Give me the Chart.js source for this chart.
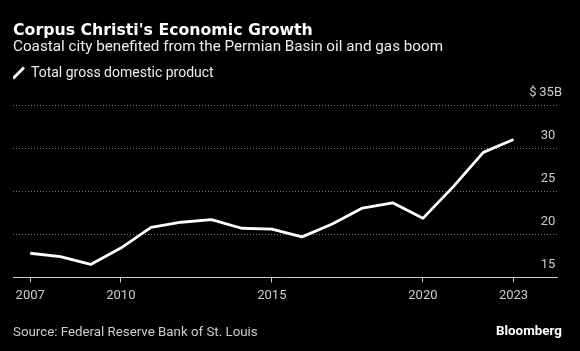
<!DOCTYPE html>
<html><head><meta charset="utf-8">
<script src="https://cdn.jsdelivr.net/npm/chart.js@4"></script>
<style>
html,body{margin:0;padding:0;background:#000;}
#wrap{position:relative;width:580px;height:351px;background:#000;overflow:hidden;font-family:Roboto, "Liberation Sans", sans-serif;}
canvas{position:absolute;left:0;top:0;}
.t{position:absolute;white-space:nowrap;line-height:1;}
#title{left:13px;font-family:"DejaVu Sans";font-size:16px;font-weight:bold;color:#fff;}
#sub{left:13px;font-size:15.4px;color:#eee;}
#src{left:13px;font-size:13.3px;color:#ccc;}
#bb{left:496px;font-weight:bold;font-size:13.5px;color:#fff;}
</style></head>
<body><div id="wrap">
<canvas id="c" width="580" height="351"></canvas>
<div class="t" id="title">Corpus Christi's Economic Growth</div>
<div class="t" id="sub">Coastal city benefited from the Permian Basin oil and gas boom</div>
<div class="t" id="src">Source: Federal Reserve Bank of St. Louis</div>
<div class="t" id="bb">Bloomberg</div>
</div>
<script>
const years = [2007, 2008, 2009, 2010, 2011, 2012, 2013, 2014, 2015, 2016, 2017, 2018, 2019, 2020, 2021, 2022, 2023];
const gdp = [17.8, 17.4, 16.5, 18.4, 20.8, 21.4, 21.7, 20.7, 20.6, 19.7, 21.2, 23.05, 23.65, 21.85, 25.5, 29.5, 31.0];
const seriesLabel = 'Total gross domestic product';
const xTicks = [2007, 2010, 2015, 2020, 2023];
const yTicks = [15, 20, 25, 30, 35];
const yTickLabels = ['15\u2005\u2005', '20\u2005\u2005', '25\u2005\u2005', '30\u2005\u2005', '$\u200935B'];

// fit header/footer text to measured widths and baselines
function fitText(id, width, baseline, ratio) {
  const el = document.getElementById(id);
  const fs = parseFloat(getComputedStyle(el).fontSize);
  const w = el.getBoundingClientRect().width;
  const nfs = fs * width / w;
  el.style.fontSize = nfs + 'px';
  el.style.top = (baseline - ratio * nfs) + 'px';
}
fitText('title', 300, 35, 0.846);
fitText('sub', 430, 52.3, 0.842);
fitText('src', 245, 336.7, 0.842);
fitText('bb', 66, 335, 0.842);

const legendHeight = {
  id: 'legendHeight',
  beforeInit(chart) {
    const lg = chart.legend;
    if (!lg) return;
    const fit = lg.fit;
    lg.fit = function () { fit.call(this); this.height = 39; };
  }
};

new Chart(document.getElementById('c'), {
  type: 'line',
  data: {
    datasets: [{
      label: seriesLabel,
      data: years.map((y, i) => ({x: y, y: gdp[i]})),
      borderColor: '#fff',
      backgroundColor: '#fff',
      borderWidth: 2.8,
      borderJoinStyle: 'round',
      pointRadius: 0,
      pointHoverRadius: 0,
      pointStyle: 'line',
      pointRotation: -45,
      tension: 0
    }]
  },
  options: {
    responsive: false,
    animation: false,
    layout: {padding: {top: 66, left: 13, right: 13, bottom: 41}},
    plugins: {
      legend: {
        position: 'top', align: 'start',
        labels: {usePointStyle: true, boxHeight: 11, boxWidth: 11, padding: 0, color: '#eee',
                 font: {family: 'Roboto', size: 14}}
      },
      tooltip: {enabled: false}
    },
    scales: {
      x: {
        type: 'linear', min: 2006.43, max: 2024.44,
        afterBuildTicks: s => { s.ticks = xTicks.map(v => ({value: v})); },
        ticks: {color: '#ccc', font: {family: 'Roboto', size: 13}, padding: 6, autoSkip: false, maxRotation: 0,
                callback: v => String(v)},
        grid: {drawOnChartArea: false, drawTicks: true, tickLength: 5, color: '#ccc', lineWidth: 1},
        border: {display: true, color: '#ccc', width: 1}
      },
      y: {
        position: 'right', min: 15, max: 35,
        afterBuildTicks: s => { s.ticks = yTicks.map(v => ({value: v})); },
        ticks: {mirror: true, padding: 5, labelOffset: -12.5, color: '#ccc', font: {family: 'Roboto', size: 13},
                callback: (v) => yTickLabels[yTicks.indexOf(v)]},
        grid: {color: '#777', lineWidth: 1, drawTicks: false, tickLength: 0},
        border: {display: false, dash: [1, 2]}
      }
    }
  },
  plugins: [legendHeight]
});
</script>
</body></html>
